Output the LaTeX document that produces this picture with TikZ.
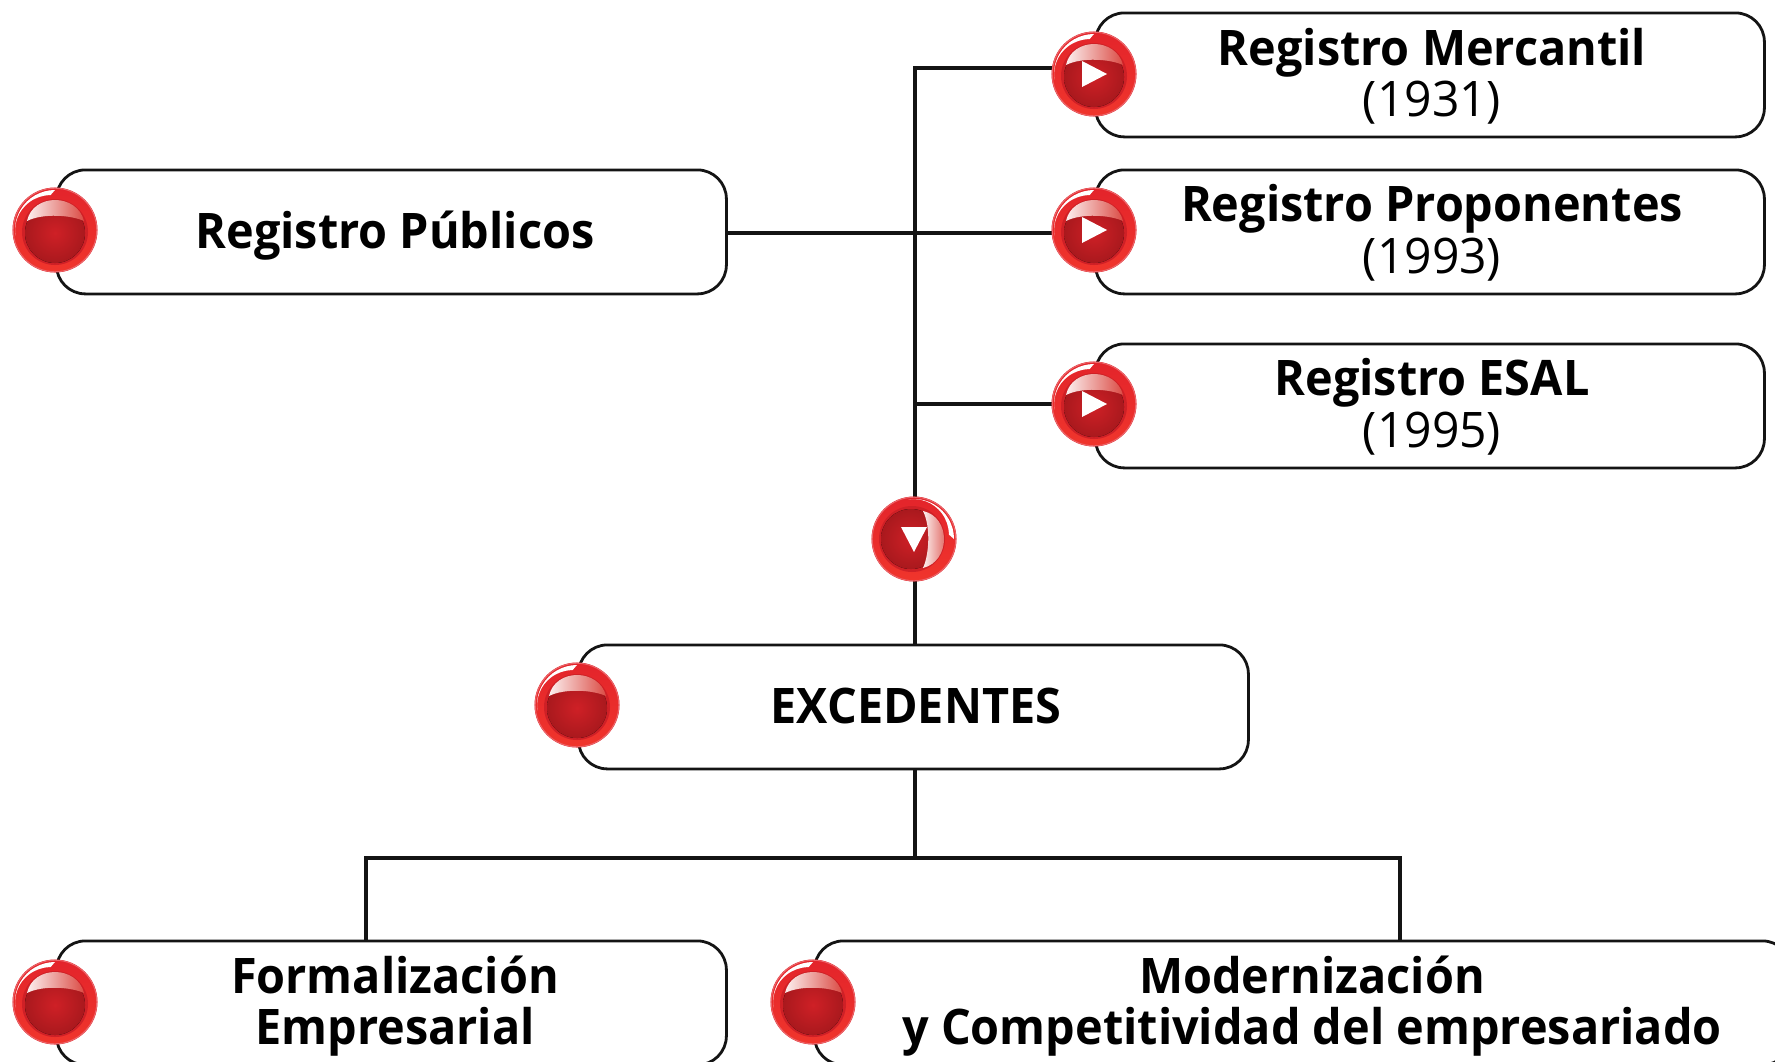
\documentclass[tikz,border=0pt]{standalone}
\usepackage{fontspec}
\setmainfont{Open Sans}
\newfontfamily\headf[FakeStretch=0.955]{Open Sans}
\newfontfamily\yearf[FakeStretch=0.98]{Open Sans}
\usetikzlibrary{backgrounds}
\definecolor{btnred}{HTML}{E3242B}
\definecolor{btnhot}{HTML}{F0352C}
\definecolor{btndark}{HTML}{B81B20}
\definecolor{btnmid}{HTML}{CF2026}
\definecolor{btnpink}{HTML}{DB4C45}
\newcommand{\btn}[4]{%
  \node[btnbase] (#1) at (#2) {};
  \begin{scope}[shift={(#2)},rotate=#3]
    \shade[top color=btnred,bottom color=btnhot] (0,0) circle (42);
    \draw[white!30!btnred,line width=1pt] (0,0) circle (41.8);
    \fill[white] (270:40) arc (270:172:40) arc (172:270:35.5) -- cycle;
    \fill[btnmid] (0,2) circle (33);
    \fill[inner color=btnmid,outer color=btndark!92!black] (0,3) circle (30);
    \shade[left color=white!92!btnpink,right color=btnpink] (-28,-9) .. controls (-22,-37) and (22,-37) .. (29,-9) .. controls (16,-15) and (-12,-17) .. (-28,-9) -- cycle;
    #4
  \end{scope}}
\newcommand{\tri}{\fill[white] (-12,-13) -- (13,0) -- (-12,13) -- cycle;}
\tikzset{
  x=1pt,y=-1pt,
  box/.style={draw=black!92,line width=2.8pt,fill=white,rounded corners=29pt,inner sep=0pt,anchor=north west},
  btnbase/.style={circle,fill=btnred,draw=none,minimum size=85pt,inner sep=0pt},
  conn/.style={draw=black!92,line width=3.2pt},
  head/.style={anchor=base,inner sep=0pt,font=\fontsize{49}{50}\selectfont\headf\bfseries},
  year/.style={anchor=base,inner sep=0pt,font=\fontsize{49}{50}\selectfont\yearf},
}
\begin{document}
\begin{tikzpicture}
\useasboundingbox (0,0) rectangle (1775,1061);
\clip (0,0) rectangle (1775,1061);
\node[box,minimum width=669pt,minimum height=124pt] (merc) at (1094,11.5) {};
\node[box,minimum width=669pt,minimum height=124pt] (prop) at (1094,168.5) {};
\node[box,minimum width=669pt,minimum height=124pt] (esal) at (1094,342.5) {};
\node[box,minimum width=670pt,minimum height=124pt] (pub) at (55,168.5) {};
\node[box,minimum width=670pt,minimum height=124pt] (exc) at (577,643.5) {};
\node[box,minimum width=670pt,minimum height=124pt] (form) at (55,939.5) {};
\node[box,minimum width=977pt,minimum height=124pt] (mod) at (813,939.5) {};
\node[head] (tmerc) at (1432,65) {Registro Mercantil};
\node[year] (ymerc) at (1432,116) {(1931)};
\node[head] (tprop) at (1432,221) {Registro Proponentes};
\node[year] (yprop) at (1432,273) {(1993)};
\node[head] (tesal) at (1432,395) {Registro ESAL};
\node[year] (yesal) at (1432,447) {(1995)};
\node[head] (tpub) at (395,248) {Registro Públicos};
\node[head] (texc) at (916,723) {EXCEDENTES};
\node[head] (tform) at (395,993) {Formalización};
\node[head] (temp) at (395,1044) {Empresarial};
\node[head] (tmod) at (1312,993) {Modernización};
\node[head] (tcomp) at (1312,1044) {y Competitividad del empresariado};
\btn{b1}{1094,74}{0}{\tri}
\btn{b2}{1094,230}{0}{\tri}
\btn{b3}{1094,404}{0}{\tri}
\btn{bp}{55,230}{0}{}
\btn{bd}{914,539}{-90}{\tri}
\btn{be}{577,705}{0}{}
\btn{bf}{55,1002}{0}{}
\btn{bm}{813,1002}{0}{}
\coordinate (j1) at (915,68);
\coordinate (j2) at (915,233);
\coordinate (j3) at (915,404);
\coordinate (j4) at (915,858);
\coordinate (l1) at (366,858);
\coordinate (r1) at (1400,858);
\begin{scope}[on background layer]
\fill[white] (0,0) rectangle (1775,1061);
\draw[conn] (b1.center |- j1) -- (j1) -- (j3 |- exc.north);
\draw[conn] (pub.east |- j2) -- (b2.center |- j2);
\draw[conn] (j3) -- (b3.center);
\draw[conn] (j4 |- exc.south) -- (j4);
\draw[conn] (form.north -| l1) -- (l1) -- (r1) -- (mod.north -| r1);
\end{scope}
\end{tikzpicture}
\end{document}
